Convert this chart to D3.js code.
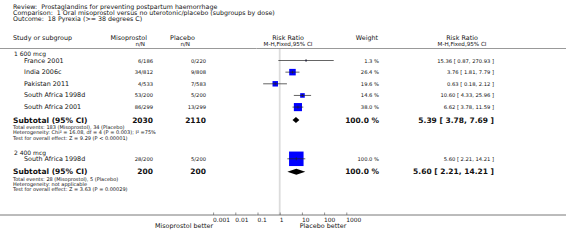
<!DOCTYPE html>
<html><head><meta charset="utf-8">
<script src="https://cdn.jsdelivr.net/npm/d3@7"></script>
<style>
html,body{margin:0;padding:0;background:#fff;}
svg text{font-family:"DejaVu Sans",sans-serif;fill:#111;white-space:pre;}
</style></head>
<body>
<svg id="c" width="566" height="245"></svg>
<script>
// ---- data ----
const titleLines = [
  "Review:  Prostaglandins for preventing postpartum haemorrhage",
  "Comparison:  1 Oral misoprostol versus no uterotonic/placebo (subgroups by dose)",
  "Outcome:  18 Pyrexia (>= 38 degrees C)"
];
const groups = ["1 600 mcg", "2 400 mcg"];
const studyNames = ["France 2001", "India 2006c", "Pakistan 2011", "South Africa 1998d", "South Africa 2001", "South Africa 1998d"];
const studyGroup = [0, 0, 0, 0, 0, 1];
const misoEvents = [6, 34, 4, 53, 86, 28];
const misoTotal = [186, 812, 533, 200, 299, 200];
const placEvents = [0, 9, 7, 5, 13, 5];
const placTotal = [220, 808, 583, 200, 299, 200];
const weights = [1.3, 26.4, 19.6, 14.6, 38.0, 100.0];
const rr = [15.36, 3.76, 0.63, 10.60, 6.62, 5.60];
const rrLow = [0.87, 1.81, 0.18, 4.33, 3.78, 2.21];
const rrHigh = [270.93, 7.79, 2.12, 25.96, 11.59, 14.21];
const subMisoTotal = [2030, 200];
const subPlacTotal = [2110, 200];
const subWeight = [100.0, 100.0];
const subRR = [5.39, 5.60];
const subLow = [3.78, 2.21];
const subHigh = [7.69, 14.21];
const subNotes = [
  ["Total events: 183 (Misoprostol), 34 (Placebo)",
   "Heterogeneity: Chi\u00B2 = 16.08, df = 4 (P = 0.003); I\u00B2 =75%",
   "Test for overall effect: Z = 9.29 (P < 0.00001)"],
  ["Total events: 28 (Misoprostol), 5 (Placebo)",
   "Heterogeneity: not applicable",
   "Test for overall effect: Z = 3.63 (P = 0.00029)"]
];
const tickValues = [0.001, 0.01, 0.1, 1, 10, 100, 1000];
const tickLabels = ["0.001", "0.01", "0.1", "1", "10", "100", "1000"];
const favourLeft = "Misoprostol better";
const favourRight = "Placebo better";

// ---- layout ----
const svg = d3.select("#c");
const W = 566;
const x = d3.scaleLog().domain([0.001, 1000]).range([213.1, 346.3]);
const side = d3.scalePow().exponent(0.6).domain([0, 100]).range([0, 14.5]);
const fmt2 = d3.format(".2f");
const fmtW = d3.format(".1f");

const L = 13, LI = 24, cMiso = 153, cPlac = 206, cW = 379, cRR = 494;
const fsHead = 6.4, fsName = 6.4, fsVal = 5.2, fsBold = 7.5, fsNote = 5.0, fsTitle = 6.3, fsSub = 5.6;

function txt(g, s, xx, yy, opt) {
  opt = opt || {};
  return g.append("text").attr("x", xx).attr("y", yy)
    .attr("dominant-baseline", "central")
    .attr("text-anchor", opt.anchor || "start")
    .attr("font-size", opt.size || fsName)
    .attr("font-weight", opt.bold ? "bold" : "normal")
    .text(s);
}

// title
const tg = svg.append("g");
titleLines.forEach((t, i) => txt(tg, t, L, 6 + i * 6, {size: fsTitle}));

// header
const hg = svg.append("g");
txt(hg, "Study or subgroup", L, 38, {size: fsHead});
txt(hg, "Misoprostol", 147, 38, {size: fsHead, anchor: "end"});
txt(hg, "n/N", 145, 44, {size: fsSub, anchor: "end"});
txt(hg, "Placebo", 195, 38, {size: fsHead, anchor: "end"});
txt(hg, "n/N", 190, 44, {size: fsSub, anchor: "end"});
txt(hg, "Risk Ratio", 288, 37.5, {size: fsHead, anchor: "middle"});
txt(hg, "M-H,Fixed,95% CI", 288, 44, {size: fsSub, anchor: "middle"});
txt(hg, "Weight", 367, 38, {size: fsHead, anchor: "middle"});
txt(hg, "Risk Ratio", 462, 37.5, {size: fsHead, anchor: "middle"});
txt(hg, "M-H,Fixed,95% CI", 462, 44, {size: fsSub, anchor: "middle"});
hg.append("line").attr("x1", 0).attr("x2", W).attr("y1", 48.5).attr("y2", 48.5)
  .attr("stroke", "#999").attr("stroke-width", 1);

// row positions
const groupLabelY = [53, 152];
const firstStudyY = [60.5, 158.8];
const rowStep = 11.65;
const axisY = 215;

// null line
svg.append("line").attr("x1", x(1)).attr("x2", x(1)).attr("y1", 49).attr("y2", axisY)
  .attr("stroke", "#dcdcdc").attr("stroke-width", 1.8);

const body = svg.append("g");
const counter = [0, 0];
const lastY = [0, 0];
studyNames.forEach((name, i) => {
  const g = studyGroup[i];
  const yy = firstStudyY[g] + counter[g] * rowStep;
  counter[g]++;
  lastY[g] = yy;
  txt(body, name, LI, yy, {size: fsName});
  txt(body, misoEvents[i] + "/" + misoTotal[i], cMiso, yy, {size: fsVal, anchor: "end"});
  txt(body, placEvents[i] + "/" + placTotal[i], cPlac, yy, {size: fsVal, anchor: "end"});
  txt(body, fmtW(weights[i]) + " %", cW, yy, {size: fsVal, anchor: "end"});
  txt(body, fmt2(rr[i]) + " [ " + fmt2(rrLow[i]) + ", " + fmt2(rrHigh[i]) + " ]", cRR, yy, {size: fsVal, anchor: "end"});
  // marks
  const s = side(weights[i]);
  body.append("rect").attr("x", x(rr[i]) - s / 2).attr("y", yy - s / 2)
    .attr("width", s).attr("height", s).attr("fill", "#0000ff");
  body.append("line").attr("x1", x(rrLow[i])).attr("x2", x(rrHigh[i]))
    .attr("y1", yy).attr("y2", yy).attr("stroke", "#222").attr("stroke-width", 0.7);
  body.append("line").attr("x1", x(rr[i])).attr("x2", x(rr[i]))
    .attr("y1", yy - 1.5).attr("y2", yy + 1.5).attr("stroke", "#222").attr("stroke-width", 0.7);
});

groups.forEach((gname, g) => {
  txt(body, gname, L + 1, groupLabelY[g], {size: 6.0});
  const sy = lastY[g] + 13;
  txt(body, "Subtotal (95% CI)", L, sy, {size: fsBold, bold: true});
  txt(body, String(subMisoTotal[g]), cMiso, sy, {size: fsBold, bold: true, anchor: "end"});
  txt(body, String(subPlacTotal[g]), cPlac, sy, {size: fsBold, bold: true, anchor: "end"});
  txt(body, fmtW(subWeight[g]) + " %", cW, sy, {size: fsBold, bold: true, anchor: "end"});
  txt(body, fmt2(subRR[g]) + " [ " + fmt2(subLow[g]) + ", " + fmt2(subHigh[g]) + " ]", cRR, sy, {size: fsBold, bold: true, anchor: "end"});
  const h = 3;
  const pts = [[x(subLow[g]), sy], [x(subRR[g]), sy - h], [x(subHigh[g]), sy], [x(subRR[g]), sy + h]];
  body.append("path").attr("d", d3.line()(pts) + "Z").attr("fill", "#000");
  subNotes[g].forEach((n, k) => txt(body, n, L, sy + 7 + k * 5.2, {size: fsNote}));
});

// axis
const axis = d3.axisBottom(x).tickValues(tickValues)
  .tickFormat((d, i) => tickLabels[i]).tickSize(-2.5).tickPadding(0);
const ag = svg.append("g").attr("transform", "translate(0," + axisY + ")").call(axis);
ag.select(".domain").remove();
ag.selectAll(".tick line").attr("stroke", "#777").attr("stroke-width", 0.8);
ag.selectAll(".tick text").attr("text-anchor", "start").attr("dx", -0.5)
  .attr("y", 5).attr("dy", 0).attr("dominant-baseline", "central")
  .attr("font-size", 5.9).attr("font-family", "DejaVu Sans").attr("fill", "#111");
svg.append("line").attr("x1", 0).attr("x2", W).attr("y1", axisY).attr("y2", axisY)
  .attr("stroke", "#555").attr("stroke-width", 0.8);
txt(svg, favourLeft, x(0.001), axisY + 11, {size: fsName, anchor: "end"});
txt(svg, favourRight, x(1000), axisY + 11, {size: fsName, anchor: "end"});
</script>
</body></html>
